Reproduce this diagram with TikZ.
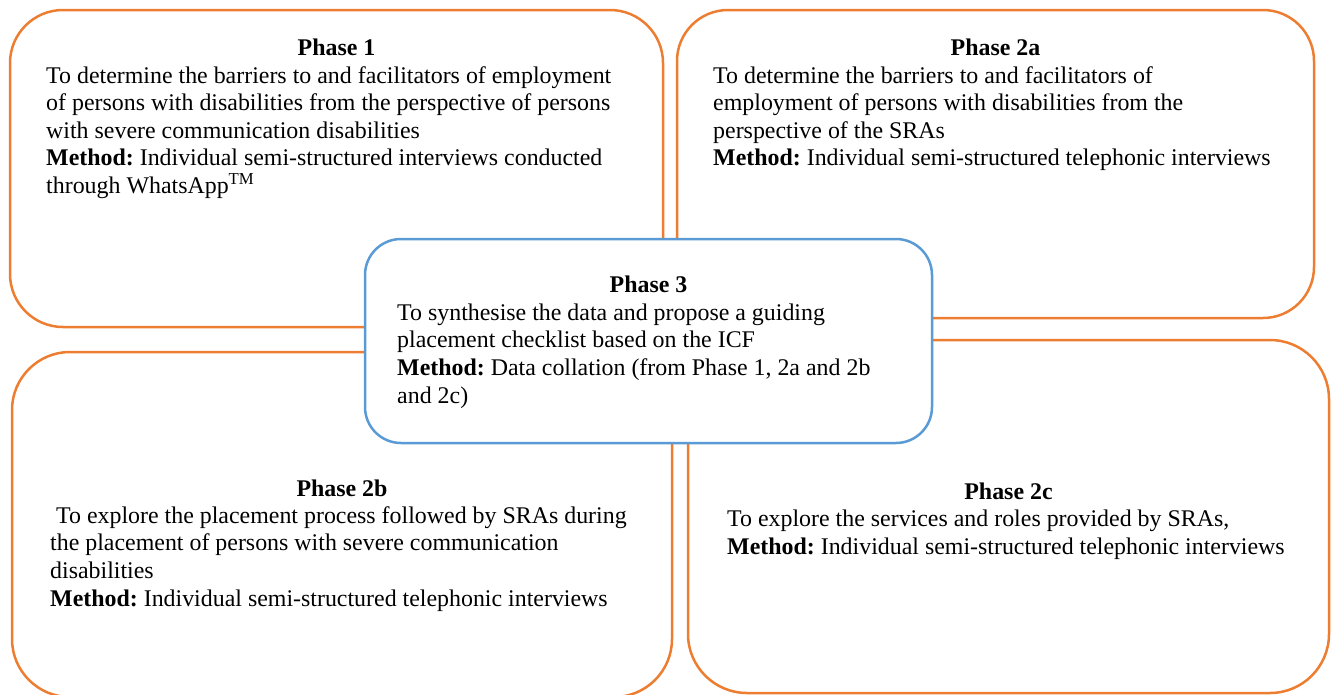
\documentclass[tikz,border=0pt]{standalone}
\usepackage{fontspec}
\setmainfont{Liberation Serif}
\frenchspacing
\definecolor{boxorange}{HTML}{ED7D31}
\definecolor{boxblue}{HTML}{5B9BD5}
\begin{document}
\begin{tikzpicture}[x=1pt,y=-1pt,
  phasebox/.style={draw=boxorange, line width=2.5pt, rectangle, inner sep=0pt},
  centrebox/.style={draw=boxblue, fill=white, line width=2.5pt, rectangle, inner sep=0pt},
  phasetitle/.style={font=\fontsize{23.9}{27.6}\selectfont\bfseries, anchor=base, inner sep=0pt},
  % multi-line bodies are anchored at the baseline of their last line
  phasebody/.style={font=\fontsize{23.9}{27.6}\selectfont, anchor=base west, align=left, inner sep=0pt}]
\useasboundingbox (0,0) rectangle (1333,694);

% outer phase boxes
\node[phasebox, rounded corners=53pt, minimum width=653pt, minimum height=317pt] (p1) at (336.5,168.5) {};
\node[phasebox, rounded corners=51pt, minimum width=637pt, minimum height=308pt] (p2a) at (995.5,164) {};
\node[phasebox, rounded corners=58pt, minimum width=660pt, minimum height=345pt] (p2b) at (342,524.5) {};
\node[phasebox, rounded corners=59pt, minimum width=641pt, minimum height=353pt] (p2c) at (1008.5,516.5) {};

% central synthesis box
\node[centrebox, rounded corners=36pt, minimum width=567pt, minimum height=204pt] (p3) at (648.5,341) {};

% Phase 1
\node[phasetitle] (t1) at (336.5,55.5) {Phase 1};
\node[phasebody] (b1) at (46,193.5) {To determine the barriers to and facilitators of employment\\
of persons with disabilities from the perspective of persons\\
with severe communication disabilities\\
\textbf{Method:} Individual semi-structured interviews conducted\\
through WhatsApp\textsuperscript{TM}};

% Phase 2a
\node[phasetitle] (t2a) at (995.5,55.5) {Phase 2a};
\node[phasebody] (b2a) at (713,165.9) {To determine the barriers to and facilitators of\\
employment of persons with disabilities from the\\
perspective of the SRAs\\
\textbf{Method:} Individual semi-structured telephonic interviews};

% Phase 3
\node[phasetitle] (t3) at (648.5,292.7) {Phase 3};
\node[phasebody] (b3) at (397,403.1) {To synthesise the data and propose a guiding\\
placement checklist based on the ICF\\
\textbf{Method:} Data collation (from Phase 1, 2a and 2b\\
and 2c)};

% Phase 2b
\node[phasetitle] (t2b) at (342,496) {Phase 2b};
\node[phasebody] (b2b) at (50,606.1) {\hspace*{6pt}To explore the placement process followed by SRAs during\\
the placement of persons with severe communication\\
disabilities\\
\textbf{Method:} Individual semi-structured telephonic interviews};

% Phase 2c
\node[phasetitle] (t2c) at (1008.5,499) {Phase 2c};
\node[phasebody] (b2c) at (727,554.3) {To explore the services and roles provided by SRAs,\\
\textbf{Method:} Individual semi-structured telephonic interviews};
\end{tikzpicture}
\end{document}
